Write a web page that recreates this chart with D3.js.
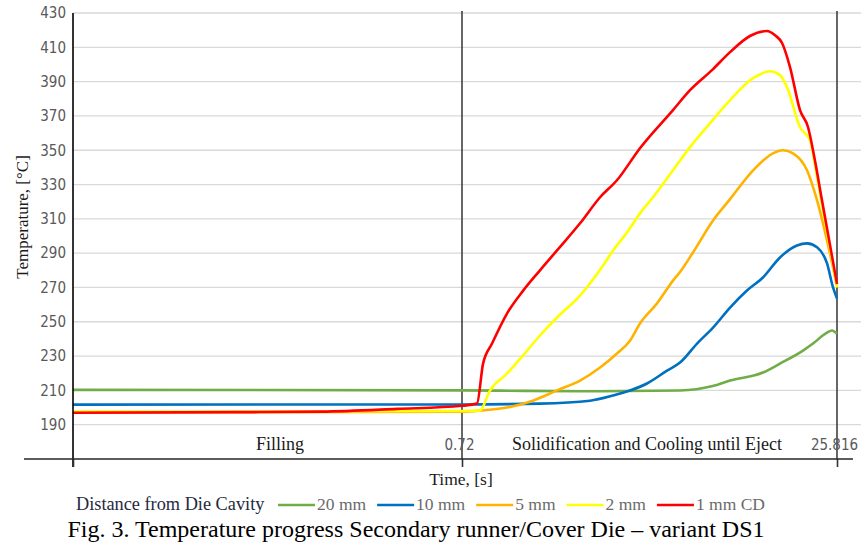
<!DOCTYPE html>
<html>
<head>
<meta charset="utf-8">
<script src="https://cdn.jsdelivr.net/npm/d3@7"></script>
<style>
  html, body { margin: 0; padding: 0; background: #fff; }
  svg { display: block; }
</style>
</head>
<body>
<svg id="chart" width="861" height="544"></svg>
<script>
// ---------- data (time in s, temperature in °C) ----------
const seriesNames = ["20 mm", "10 mm", "5 mm", "2 mm", "1 mm CD"];
const seriesColors = ["#70ad47", "#0070c0", "#ffb300", "#ffff00", "#ff0000"];

const t20mm = [[0,210.3],[0.72,210],[5,209.7],[10,209.5],[15.31,209.9],[17.5,212.5],[18.66,215.7],[20.86,220.4],[22.0,225.6],[23.54,233.2],[24.21,237.3],[25.15,243.7],[25.48,244.9],[25.816,243]];
const t10mm = [[0,201.7],[0.72,201.8],[5.94,202.3],[9.29,204],[10.83,207],[11.96,209.9],[13.1,214],[14.44,221.5],[15.31,226.2],[16.45,237.3],[17.52,246.6],[18.66,258.3],[19.79,268.2],[20.86,275.8],[22.0,287.5],[23.14,294.5],[23.81,295.7],[24.48,293.4],[25.15,284],[25.55,270],[25.816,263.6]];
const t5mm = [[0,197.2],[0.72,197.6],[1.92,198.2],[3.73,200],[5.47,204],[7.08,210],[8.62,215.7],[9.96,223.3],[11.09,231.5],[11.96,239],[12.63,249],[13.77,260.7],[14.84,274],[15.31,279],[16.18,290.4],[17.52,309],[18.66,321.5],[20.2,338.3],[21.53,348.2],[22.2,350],[22.87,348.2],[23.81,338.3],[24.34,325],[25.816,271]];
const t2mm = [[0,197.6],[0.72,198],[1.92,198.2],[2.59,209.9],[3.73,219.8],[4.8,230.3],[5.94,242],[7.08,252.5],[8.62,265.3],[10.16,282.8],[10.83,291.6],[11.76,302],[12.63,313.2],[13.5,322.6],[14.84,338.3],[15.98,351.8],[17.32,365.8],[18.66,379.2],[20.2,392],[21.33,396],[22.0,393.8],[22.47,386.8],[23.34,363.4],[24.01,355.8],[24.48,334.2],[25.816,270]];
const t1mmCD = [[0,197],[0.3,197.3],[0.46,197.6],[0.6,199.2],[0.72,201],[1.72,202.3],[2.13,225.6],[2.73,237.3],[3.73,254.8],[4.8,268],[5.94,280],[7.08,291.6],[8.62,307.4],[9.96,322.6],[11.09,332.5],[12.63,351.2],[14.84,373.4],[15.98,385],[17.45,396.7],[18.66,407.2],[19.99,416.6],[21.13,419.5],[21.67,417],[22.14,412.5],[22.67,398.5],[23.34,373.4],[23.88,363.4],[24.34,344],[24.81,320.8],[25.816,272]];
const seriesData = [t20mm, t10mm, t5mm, t2mm, t1mmCD];

const yTicks = [190, 210, 230, 250, 270, 290, 310, 330, 350, 370, 390, 410, 430];
const xTicks = [0, 0.72, 25.816];
const xTickLabels = ["", "0.72", "25.816"];
const phaseLabels = ["Filling", "Solidification and Cooling until Eject"];

// ---------- layout ----------
const svg = d3.select("#chart");
const plotLeft = 73, plotTop = 13, axisY = 459;
const x = d3.scaleLinear().domain([0, 0.72, 25.816]).range([plotLeft, 462, 837]);
const y = d3.scaleLinear().domain([170, 430]).range([axisY, plotTop]);
const serif = "'Liberation Serif', 'Times New Roman', serif";
const sans = "'DejaVu Sans Condensed', 'DejaVu Sans', Verdana, sans-serif";

// gridlines
svg.append("g").selectAll("line").data(yTicks).join("line")
  .attr("x1", plotLeft).attr("x2", 861)
  .attr("y1", d => y(d)).attr("y2", d => y(d))
  .attr("stroke", "#d9d9d9").attr("stroke-width", 1.3);

// y tick labels
const yAxis = svg.append("g").attr("transform", `translate(${plotLeft - 5},0)`)
  .call(d3.axisLeft(y).tickValues(yTicks).tickSize(0).tickPadding(2));
yAxis.select(".domain").remove();
yAxis.selectAll("text").attr("font-family", sans).attr("font-size", 15).attr("fill", "#595959");

// vertical phase lines
svg.append("g").selectAll("line").data(xTicks.slice(1)).join("line")
  .attr("x1", d => x(d)).attr("x2", d => x(d))
  .attr("y1", plotTop - 2).attr("y2", axisY)
  .attr("stroke", "#404040").attr("stroke-width", 1.6);

// series lines
const line = d3.line().x(d => x(d[0])).y(d => y(d[1])).curve(d3.curveMonotoneX);
svg.append("g").selectAll("path").data(seriesData).join("path")
  .attr("d", line)
  .attr("fill", "none")
  .attr("stroke", (d, i) => seriesColors[i])
  .attr("stroke-width", 2.6)
  .attr("stroke-linejoin", "round");

// y axis line
svg.append("line").attr("x1", plotLeft).attr("x2", plotLeft).attr("y1", plotTop).attr("y2", axisY + 8)
  .attr("stroke", "#000").attr("stroke-width", 1.6);

// x axis (ticks downward, labels above)
const xAxis = svg.append("g").attr("transform", `translate(0,${axisY})`)
  .call(d3.axisTop(x).tickValues(xTicks).tickSizeInner(-8).tickSizeOuter(0).tickPadding(9)
    .tickFormat((d, i) => xTickLabels[i]));
xAxis.select(".domain").remove();
xAxis.selectAll(".tick line").attr("stroke", "#333").attr("stroke-width", 1.6);
xAxis.selectAll("text").attr("font-family", sans).attr("font-size", 15).attr("fill", "#595959").attr("dx", -3);
svg.append("line").attr("x1", 24).attr("x2", 853).attr("y1", axisY).attr("y2", axisY)
  .attr("stroke", "#262626").attr("stroke-width", 1.6);

// phase labels
svg.append("g").selectAll("text").data(phaseLabels).join("text")
  .attr("x", (d, i) => i === 0 ? 280 : 647)
  .attr("y", 450)
  .attr("text-anchor", "middle")
  .attr("font-family", serif).attr("font-size", 18).attr("fill", "#1a1a1a")
  .text(d => d);

// axis titles
svg.append("text").attr("x", 461).attr("y", 485).attr("text-anchor", "middle")
  .attr("font-family", serif).attr("font-size", 17.5).attr("fill", "#1a1a1a").text("Time, [s]");
svg.append("text").attr("transform", "translate(28,217) rotate(-90)").attr("text-anchor", "middle")
  .attr("font-family", serif).attr("font-size", 17).attr("fill", "#1a1a1a").text("Temperature, [°C]");

// legend
const legend = svg.append("g");
legend.append("text").attr("x", 76).attr("y", 510)
  .attr("font-family", serif).attr("font-size", 18.3).attr("fill", "#1f2a40").text("Distance from Die Cavity");
let lx = 278;
seriesNames.forEach((name, i) => {
  legend.append("line").attr("x1", lx).attr("x2", lx + 37).attr("y1", 505).attr("y2", 505)
    .attr("stroke", seriesColors[i]).attr("stroke-width", 2.6);
  const t = legend.append("text").attr("x", lx + 39).attr("y", 510)
    .attr("font-family", serif).attr("font-size", 17.5).attr("fill", "#6a6a6a").text(name);
  lx += 39 + t.node().getComputedTextLength() + 11;
});

// caption
svg.append("text").attr("x", 416).attr("y", 537).attr("text-anchor", "middle")
  .attr("font-family", serif).attr("font-size", 24).attr("fill", "#000")
  .text("Fig. 3. Temperature progress Secondary runner/Cover Die – variant DS1");
</script>
</body>
</html>
